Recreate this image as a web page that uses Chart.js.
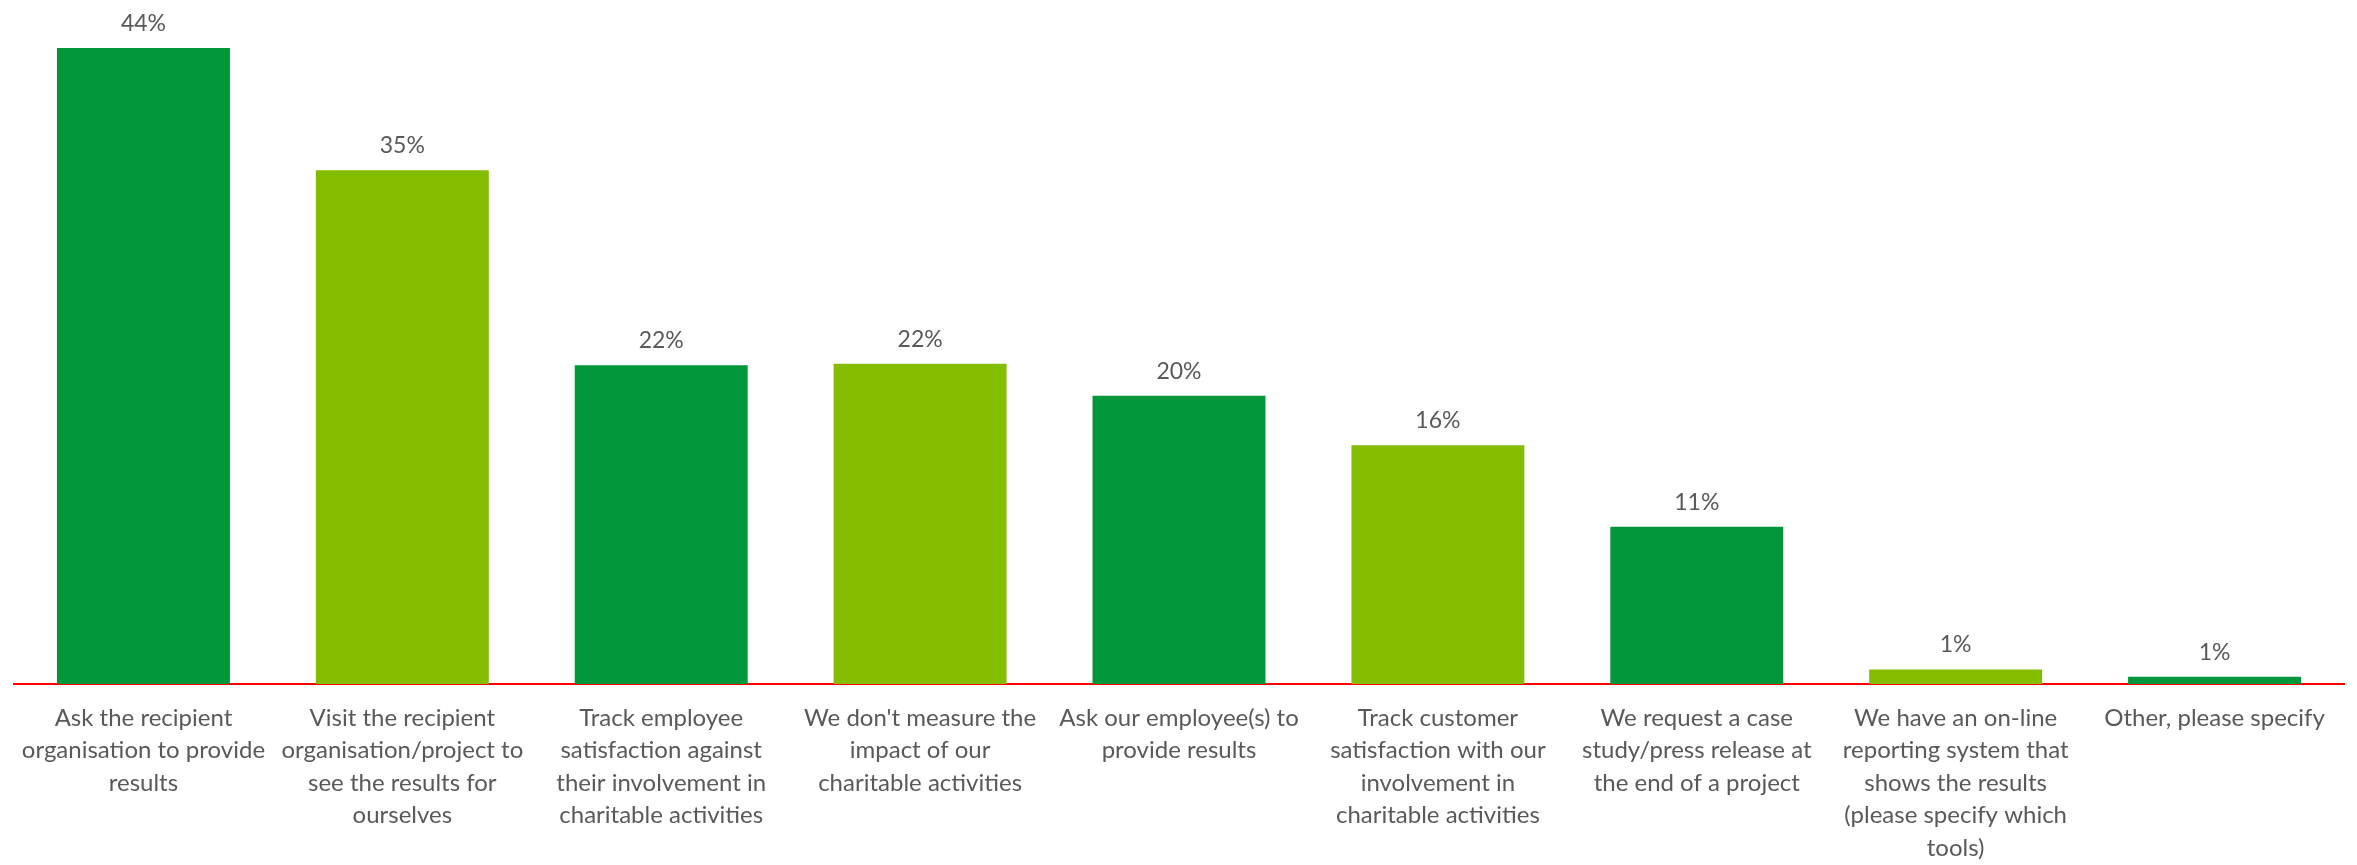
<!DOCTYPE html>
<html>
<head>
<meta charset="utf-8">
<title>How companies measure the impact of their charitable activities</title>
<script src="https://cdn.jsdelivr.net/npm/chart.js@4/dist/chart.umd.min.js"></script>
<style>
  html, body { margin: 0; padding: 0; background: #ffffff; }
  #wrap { width: 2357px; height: 865px; }
</style>
</head>
<body>
<div id="wrap"><canvas id="chart" width="2357" height="865"></canvas></div>
<script>
// Survey answers (multi-line category labels)
const categories = [
  ["Ask the recipient", "organisation to provide", "results"],
  ["Visit the recipient", "organisation/project to", "see the results for", "ourselves"],
  ["Track employee", "satisfaction against", "their involvement in", "charitable activities"],
  ["We don't measure the", "impact of our", "charitable activities"],
  ["Ask our employee(s) to", "provide results"],
  ["Track customer", "satisfaction with our", "involvement in", "charitable activities"],
  ["We request a case", "study/press release at", "the end of a project"],
  ["We have an on-line", "reporting system that", "shows the results", "(please specify which", "tools)"],
  ["Other, please specify"]
];

// Share of respondents, in percent
const shares = [43.7, 35.3, 21.9, 22.0, 19.8, 16.4, 10.8, 1.0, 0.5];

const DARK_GREEN = '#009639';
const LIGHT_GREEN = '#84bc00';
const TEXT_GREY = '#595959';
const FONT = 'Lato, "Open Sans", sans-serif';

// Percentage labels above each bar
const valueLabels = {
  id: 'valueLabels',
  afterDatasetsDraw(chart) {
    const ctx = chart.ctx;
    const meta = chart.getDatasetMeta(0);
    ctx.save();
    ctx.fillStyle = TEXT_GREY;
    ctx.font = '23px ' + FONT;
    ctx.textAlign = 'center';
    ctx.textBaseline = 'alphabetic';
    meta.data.forEach((bar, i) => {
      const v = chart.data.datasets[0].data[i];
      ctx.fillText(Math.round(v) + '%', bar.x, bar.y - 17);
    });
    ctx.restore();
  }
};

new Chart(document.getElementById('chart'), {
  type: 'bar',
  data: {
    labels: categories,
    datasets: [{
      data: shares,
      backgroundColor: ctx => (ctx.dataIndex % 2 === 0 ? DARK_GREEN : LIGHT_GREEN),
      borderWidth: 0,
      categoryPercentage: 1.0,
      barPercentage: 0.668
    }]
  },
  options: {
    responsive: false,
    animation: false,
    layout: { padding: { left: 14, right: 13, top: 29, bottom: 0 } },
    plugins: {
      legend: { display: false },
      tooltip: { enabled: false }
    },
    scales: {
      x: {
        z: 1,
        grid: { display: false, drawTicks: false },
        border: { display: true, color: '#ff0000', width: 2 },
        ticks: {
          color: TEXT_GREY,
          font: { family: FONT, size: 24, lineHeight: '32.5px' },
          padding: 18,
          maxRotation: 0,
          minRotation: 0,
          autoSkip: false
        },
        afterFit(scale) { scale.height = 181; }
      },
      y: {
        display: false,
        min: 0,
        max: 45
      }
    }
  },
  plugins: [valueLabels]
});
</script>
</body>
</html>
